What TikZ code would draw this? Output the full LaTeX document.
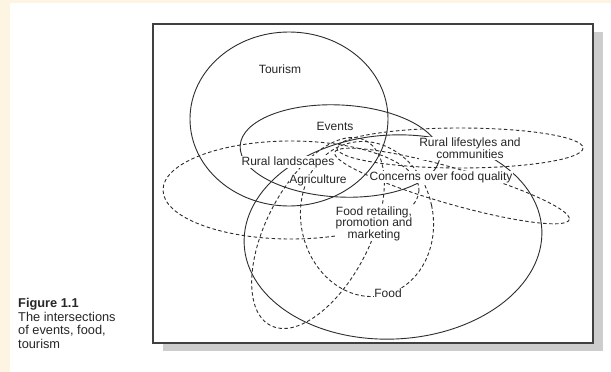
\documentclass[tikz,border=0pt]{standalone}
\usepackage{fontspec}
\setmainfont{Liberation Sans}
\definecolor{cream}{RGB}{254,244,226}
\definecolor{ln}{RGB}{45,45,45}
\definecolor{shadowgrey}{RGB}{205,205,205}
\begin{document}
\begin{tikzpicture}[x=1pt,y=-1pt,
  setline/.style={draw=ln, line width=0.9pt},
  dashline/.style={draw=ln, line width=0.9pt, dash pattern=on 3.5pt off 2.5pt},
  lbl/.style={fill=white, inner sep=0.8pt, font=\fontsize{12}{11.6}\selectfont, align=center, text=black!85}]
\useasboundingbox (0,0) rectangle (611,372);
\fill[white] (0,0) rectangle (611,372);
\fill[cream] (0,0) rectangle (10,372);
\fill[cream] (0,0) rectangle (611,3);
\fill[shadowgrey] (163,32) rectangle (603,351);
\draw[fill=white, draw=black!75, line width=1.4pt] (153,24) rectangle (593,343);
% solid sets
\draw[setline] (289,119) ellipse [x radius=99, y radius=87];
\draw[setline, rotate around={-3:(340,151)}] (340,151) ellipse [x radius=100, y radius=46];
\draw[setline, rotate around={3:(393,237)}] (393,237) ellipse [x radius=149, y radius=102];
% dashed sets
\draw[dashline] (291,190) ellipse [x radius=128, y radius=49];
\draw[dashline] (460,148) ellipse [x radius=123, y radius=20];
\draw[dashline, rotate around={-16:(452,186)}] (452,186) ellipse [x radius=122, y radius=18];
\draw[dashline, rotate around={12:(367,219)}] (367,219) ellipse [x radius=66, y radius=78];
\draw[dashline, rotate around={62.8:(318,233)}] (318,233) ellipse [x radius=104, y radius=52];
% labels
\node[lbl] (tourism) at (280,69) {Tourism};
\node[lbl] (events) at (335,126) {Events};
\node[lbl] (rurland) at (288,162) {Rural landscapes};
\node[lbl] (agri) at (318,180) {Agriculture};
\node[lbl] (rurlife) at (470,148.5) {Rural lifestyles and\\communities};
\node[lbl] (concerns) at (441,177) {Concerns over food quality};
\node[lbl] (retail) at (374,223.5) {Food retailing,\\promotion and\\marketing};
\node[lbl] (food) at (388,293) {Food};
% caption
\node[anchor=north west, inner sep=0, align=left, font=\fontsize{12.8}{13.5}\selectfont, text=black!85] (cap) at (18,298.5) {\textbf{Figure 1.1}\\The intersections\\of events, food,\\tourism};
\end{tikzpicture}
\end{document}
